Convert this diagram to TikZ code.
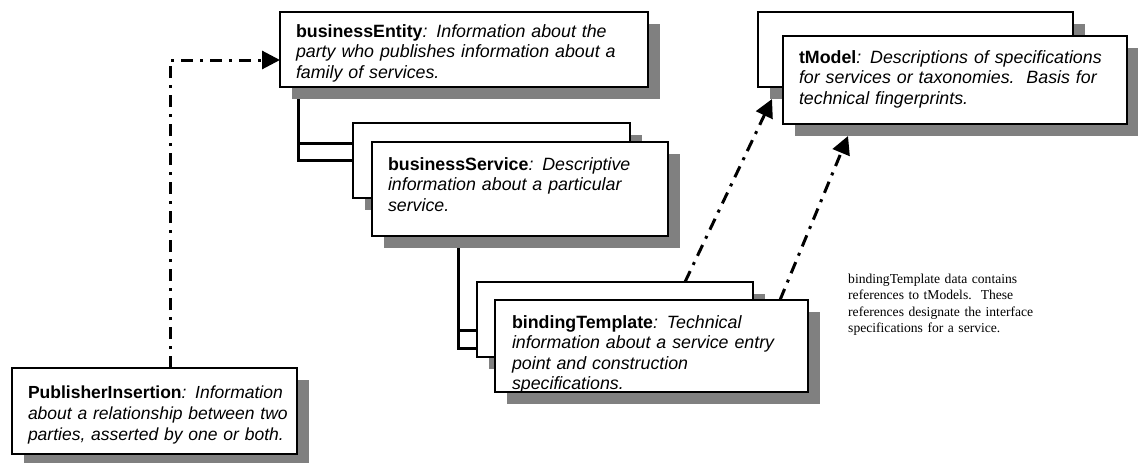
\documentclass[tikz,border=0pt]{standalone}
\usepackage{fontspec}
\setmainfont{Liberation Serif}
\newfontfamily\arialf{Liberation Sans}
\usetikzlibrary{arrows.meta,shadows,backgrounds}
\definecolor{shgray}{HTML}{808080}
\tikzset{
  box/.style={draw=black, line width=1.2pt, fill=white, rectangle, inner sep=0pt, outer sep=0pt, anchor=north west,
    drop shadow={shadow xshift=12pt, shadow yshift=-12pt, fill=shgray, opacity=1}},
  label/.style={inner sep=0pt, outer sep=0pt, anchor=base west, align=left, text width=340pt,
    font=\arialf\fontsize{17.8}{20.5}\selectfont},
  note/.style={inner sep=0pt, anchor=base west, align=left, text width=220pt,
    font=\fontsize{13.6}{16.6}\selectfont},
  tree/.style={draw=black, line width=3pt},
  dd/.style={draw=black, line width=3pt, dash pattern=on 12pt off 7pt on 3pt off 7pt},
  tip/.style={-{Triangle[length=18pt,width=18pt]}}
}
\begin{document}
\begin{tikzpicture}[x=1pt,y=-1pt]
\useasboundingbox (0,0) rectangle (1138,463);
% boxes
\node[box, minimum width=368pt, minimum height=75pt] (be) at (280,12) {};
\node[box, minimum width=277pt, minimum height=75pt] (bs0) at (353,123) {};
\node[box, minimum width=296pt, minimum height=94pt] (bs) at (372,142) {};
\node[box, minimum width=276pt, minimum height=75pt] (bt0) at (477,282) {};
\node[box, minimum width=313pt, minimum height=92pt] (bt) at (495,300) {};
\node[box, minimum width=315pt, minimum height=75pt] (tm0) at (758,12) {};
\node[box, minimum width=344pt, minimum height=88pt] (tm) at (783,36) {};
\node[box, minimum width=285pt, minimum height=86pt] (pi) at (12,368) {};
% texts
\node[label] (tbe) at (296,37) {\textbf{businessEntity}\textit{: Information about the}\\\textit{party who publishes information about a}\\\textit{family of services.}};
\node[label] (tbs) at (388,170) {\textbf{businessService}\textit{: Descriptive}\\\textit{information about a particular}\\\textit{service.}};
\node[label] (tbt) at (512,328) {\textbf{bindingTemplate}\textit{: Technical}\\\textit{information about a service entry}\\\textit{point and construction}\\\textit{specifications.}};
\node[label] (ttm) at (799,63) {\textbf{tModel}\textit{: Descriptions of specifications}\\\textit{for services or taxonomies.\ \ Basis for}\\\textit{technical fingerprints.}};
\node[label, font=\arialf\fontsize{17.5}{21}\selectfont] (tpi) at (28,398) {\textbf{PublisherInsertion}\textit{: Information}\\\textit{about a relationship between two}\\\textit{parties, asserted by one or both.}};
\node[note] (nt) at (848,283) {bindingTemplate data contains\\references to tModels.\ \ These\\references designate the interface\\specifications for a service.};
% coordinates
\coordinate (j1) at (298,160);
\coordinate (j1a) at (298,143);
\coordinate (j2) at (458,348);
\coordinate (j2a) at (458,330);
\coordinate (k) at (170,60);
\coordinate (s1) at (685,282);
\coordinate (e1) at (772,99);
\coordinate (s2) at (780,300);
\coordinate (e2) at (848,136);
\begin{pgfonlayer}{background}
\draw[tree] (j1 |- be.south) -- (j1) -- (j1 -| bs.west);
\draw[tree] (j1a) -- (j1a -| bs0.west);
\draw[tree] (j2 |- bs.south) -- (j2) -- (j2 -| bt.west);
\draw[tree] (j2a) -- (j2a -| bt0.west);
\end{pgfonlayer}
\draw[dd,tip] (k |- pi.north) -- (k) -- (k -| be.west);
\draw[dd,tip] (s1) -- (e1);
\draw[dd,tip] (s2) -- (e2);
\end{tikzpicture}
\end{document}
